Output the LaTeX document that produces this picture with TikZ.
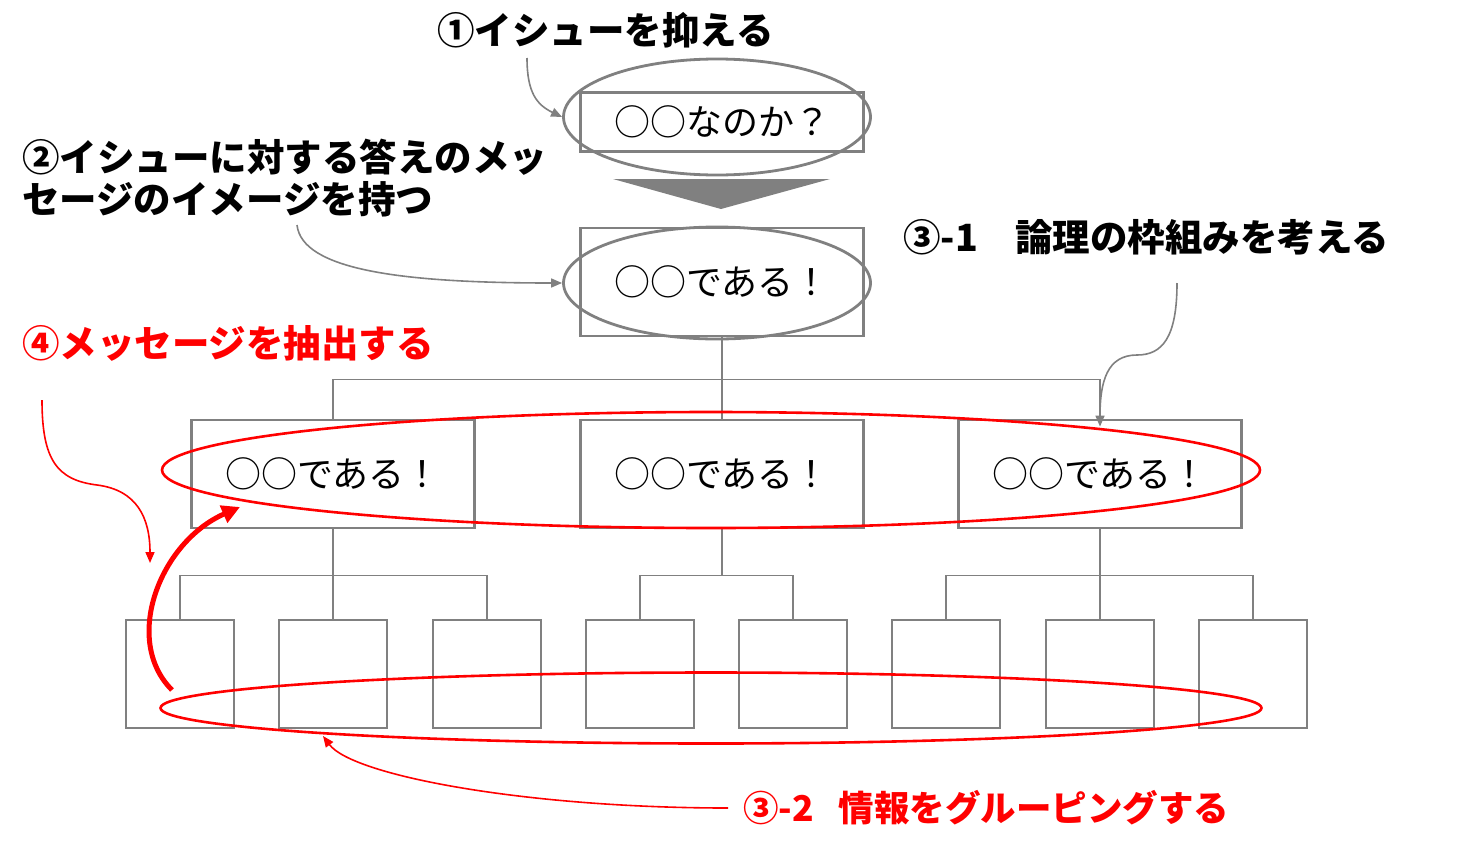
\documentclass[tikz,border=0pt]{standalone}
\usepackage{fontspec}
\setmainfont{Noto Sans CJK JP}
\usetikzlibrary{shapes.geometric, arrows.meta, positioning}

\begin{document}
\begin{tikzpicture}[x=1pt, y=-1pt,
box/.style={draw=gray, line width=2.8pt, minimum width=283pt, minimum height=108pt, inner sep=0pt, font=\fontsize{36}{40}\selectfont},
leaf/.style={draw=gray, line width=2.8pt, minimum width=108pt, minimum height=108pt},
ring/.style={ellipse, draw=gray, line width=2.8pt, minimum width=307pt, minimum height=116pt},
redring/.style={ellipse, draw=red, line width=2.6pt},
conn/.style={draw=gray, line width=1.8pt},
note/.style={font=\fontsize{37.5}{42}\selectfont\bfseries, inner sep=0pt, anchor=west},
pointer/.style={gray, line width=1.6pt, -{Triangle[length=11pt,width=9pt]}},
redpointer/.style={red, line width=1.6pt, -{Triangle[length=11pt,width=9pt]}}]
\useasboundingbox (0,0) rectangle (1466,854);

%Issue
\node[box, minimum height=59pt] (q) at (722,122) {○○なのか？};
\node[ring] (qring) at (717,117) {};
\fill[gray] (613,179) -- (830,179) -- (721,209) -- cycle;

%Answer
\node[box] (ans) at (722,282) {○○である！};
\node[ring, minimum height=112pt] (aring) at (717,283) {};

%Messages
\node[box] (m1) at (333,474) {○○である！};
\node[box] (m2) at (722,474) {○○である！};
\node[box] (m3) at (1100,474) {○○である！};
\draw[conn] (ans.south) -- (m2.north);
\draw[conn] (ans.south) ++(0,42) -| (m1.north);
\draw[conn] (ans.south) ++(0,42) -| (m3.north);

%Facts
\foreach \x [count=\i] in {180,333,487,640,793,946,1100,1253}
  \node[leaf] (s\i) at (\x,674) {};
\draw[conn] (m1.south) -- (s2.north);
\draw[conn] (m1.south) ++(0,46) -| (s1.north);
\draw[conn] (m1.south) ++(0,46) -| (s3.north);
\draw[conn] (m2.south) -- ++(0,46) -| (s4.north);
\draw[conn] (m2.south) ++(0,46) -| (s5.north);
\draw[conn] (m3.south) -- (s7.north);
\draw[conn] (m3.south) ++(0,46) -| (s6.north);
\draw[conn] (m3.south) ++(0,46) -| (s8.north);

%Groups
\node[redring, minimum width=1098pt, minimum height=116pt] (mring) at (711,470) {};
\node[redring, minimum width=1101pt, minimum height=71pt] (sring) at (711,708) {};

%Notes
\node[note] (l1) at (437,30) {①イシューを抑える};
\node[note, align=left] (l2) at (22,178) {②イシューに対する答えのメッ\\セージのイメージを持つ};
\node[note] (l31) at (903,237) {③-1　論理の枠組みを考える};
\node[note, red] (l4) at (22,343) {④メッセージを抽出する};
\node[note, red, font=\fontsize{35.5}{40}\selectfont\bfseries] (l32) at (743,808) {③-2\hspace{0.7em}情報をグルーピングする};

%Pointers
\coordinate (p1) at (527,58);
\draw[pointer] (p1) .. controls +(0,35) and +(-25,-12) .. (qring.west);
\coordinate (p2) at (297,225);
\draw[pointer] (p2) .. controls +(5,45) and +(-160,0) .. (aring.west);
\coordinate (p3) at (1177,283);
\coordinate (p3b) at (1137,355);
\draw[pointer] (p3) .. controls +(0,55) and +(25,0) .. (p3b) .. controls +(-30,0) and +(0,-45) .. ([yshift=-8pt]m3.north);
\coordinate (p4) at (42,400);
\coordinate (p4b) at (97,485);
\coordinate (p4c) at (150,563);
\draw[redpointer] (p4) .. controls +(0,60) and +(-40,-5) .. (p4b) .. controls +(40,5) and +(0,-45) .. (p4c);
\coordinate (g1) at (172,690);
\coordinate (g2) at (240,507);
\draw[red, line width=5pt, -{Triangle[length=18pt,width=18pt]}] (g1) .. controls +(-50,-50) and +(-80,35) .. (g2);
\coordinate (t32) at (323,736);
\draw[redpointer] ([xshift=-15pt]l32.west) .. controls +(-200,0) and +(30,40) .. (t32);
\end{tikzpicture}
\end{document}
